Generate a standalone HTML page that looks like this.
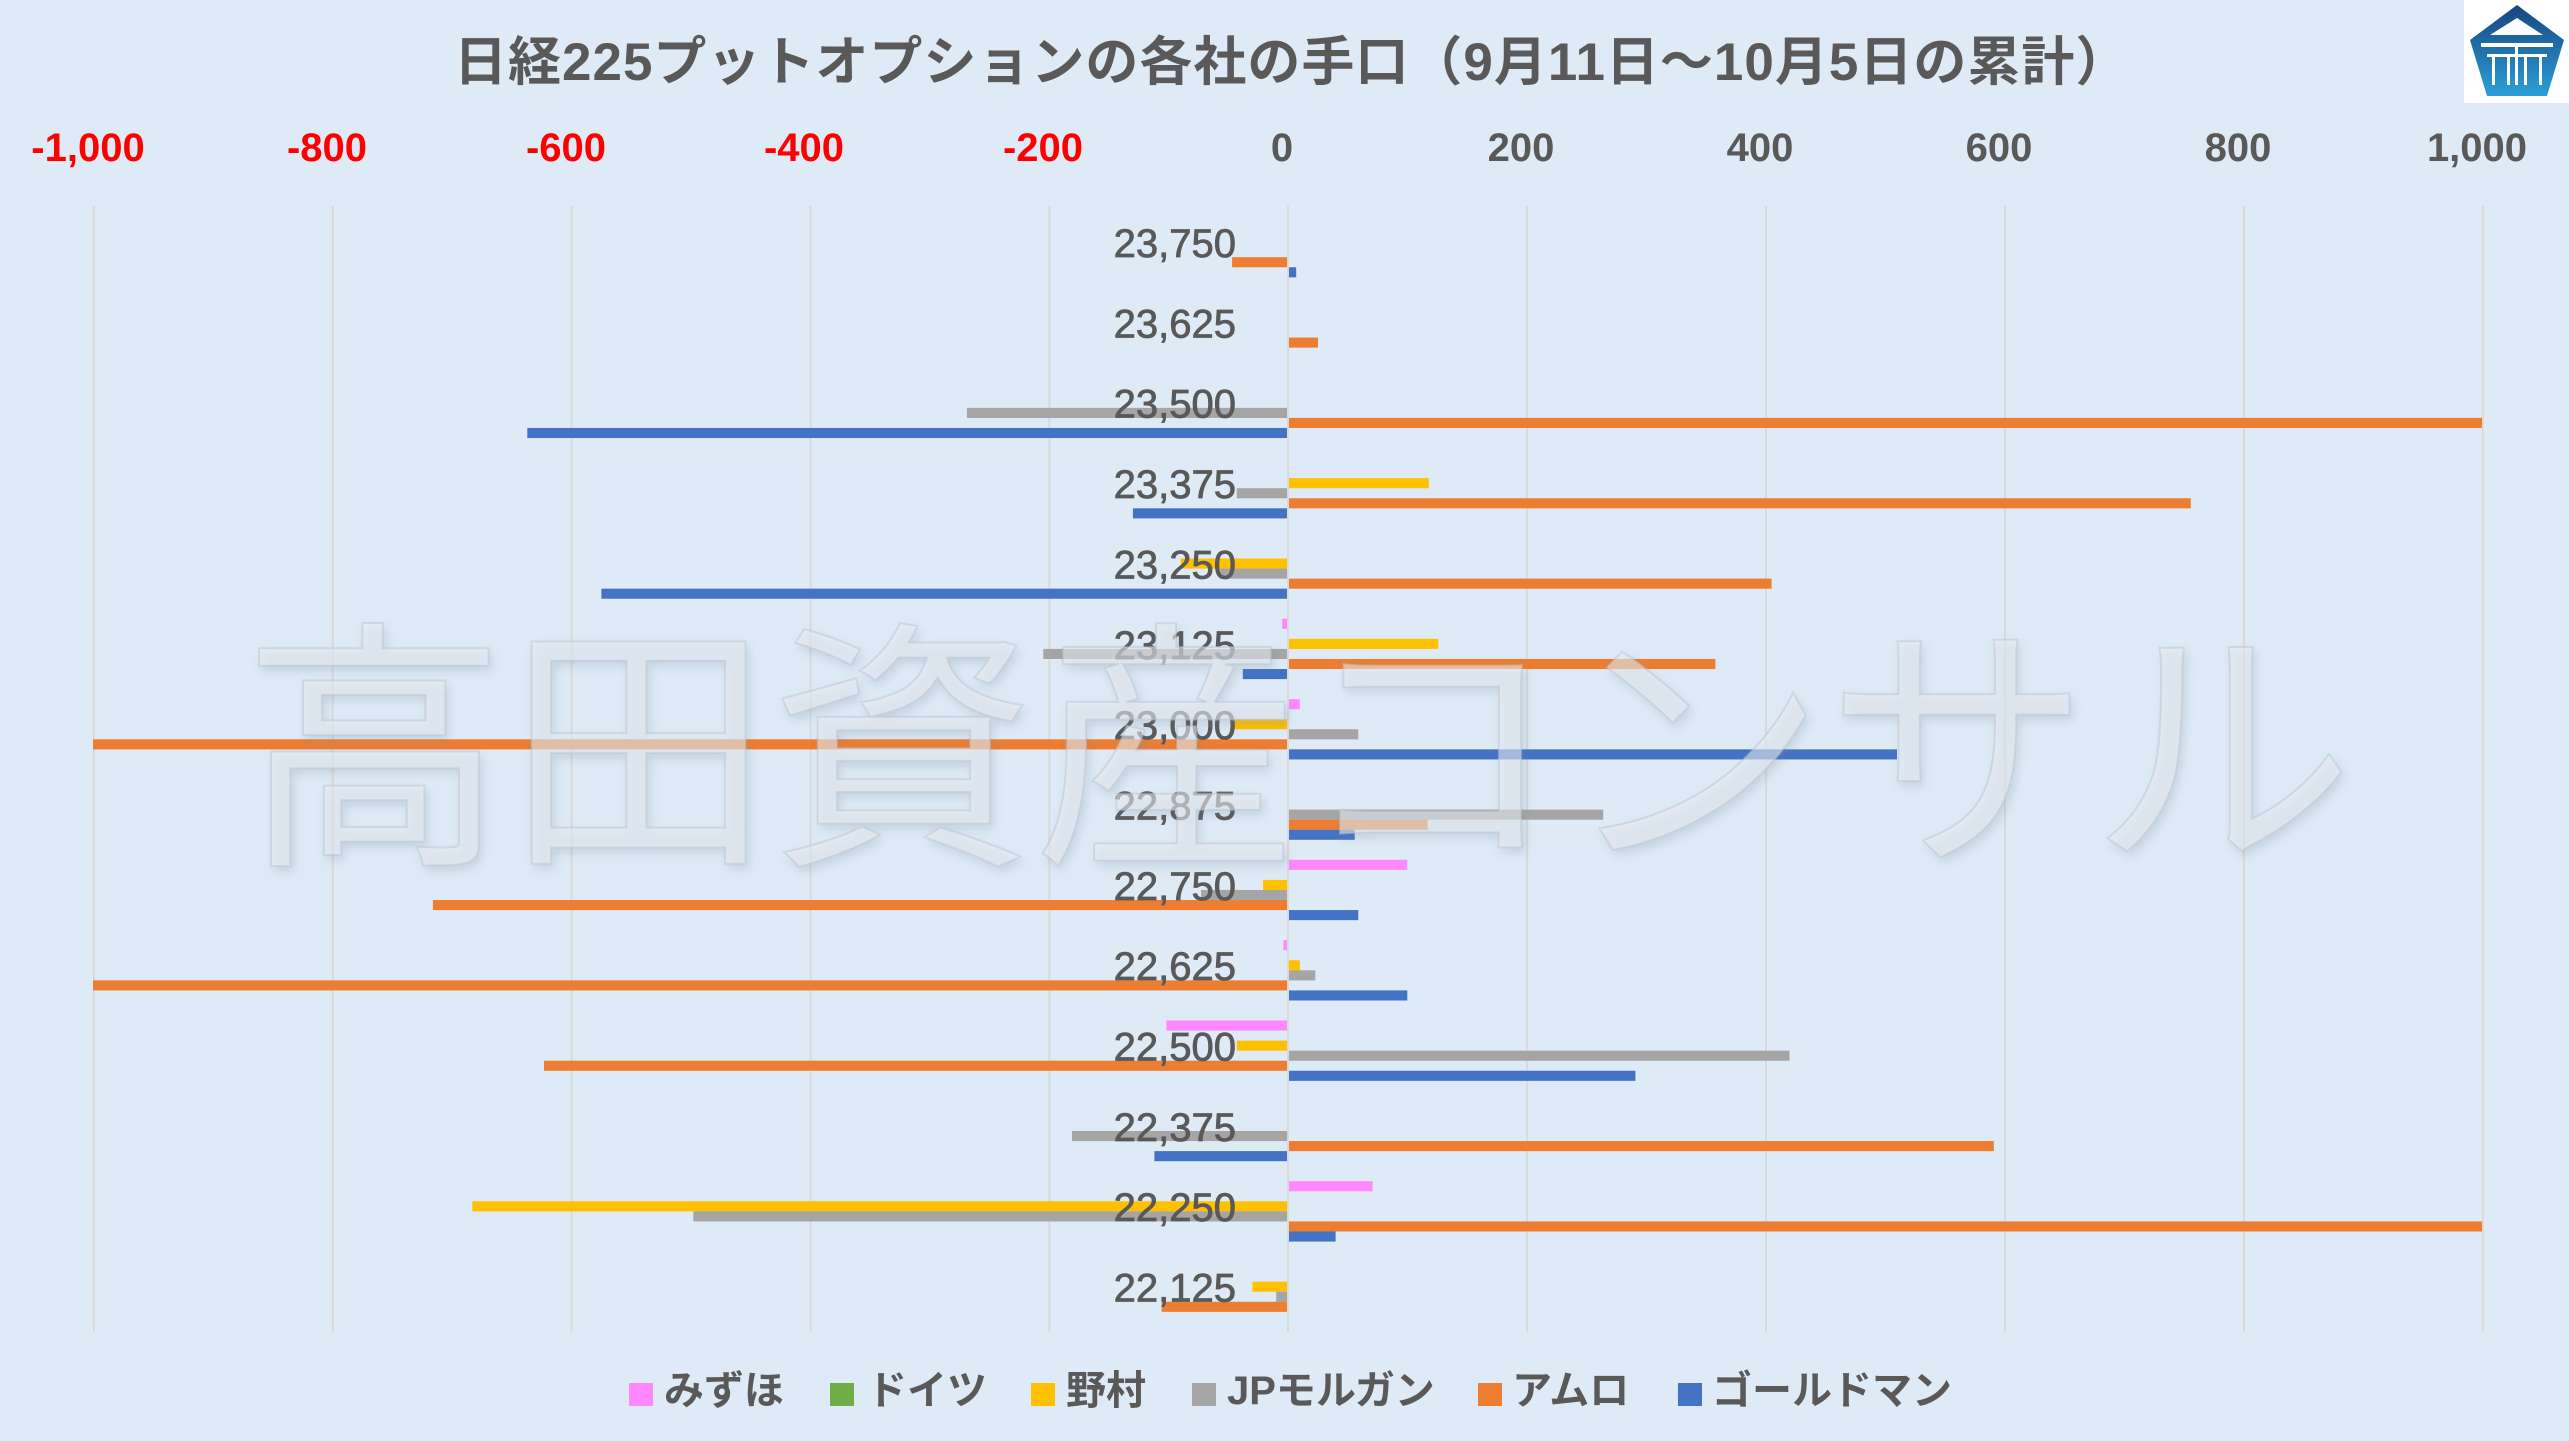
<!DOCTYPE html>
<html><head><meta charset="utf-8"><style>
html,body{margin:0;padding:0;background:#DEEBF7;}
svg{display:block;}
</style></head><body>
<svg width="2569" height="1441" viewBox="0 0 2569 1441" xmlns="http://www.w3.org/2000/svg">
<defs>
<linearGradient id="lg" x1="0" y1="0" x2="0" y2="1">
<stop offset="0" stop-color="#17457f"/><stop offset="1" stop-color="#2b9fd8"/>
</linearGradient>
<filter id="ws" x="-5%" y="-10%" width="110%" height="120%">
<feDropShadow dx="3" dy="5" stdDeviation="5" flood-color="#708096" flood-opacity="0.4"/>
</filter>
</defs>
<rect x="0" y="0" width="2569" height="1441" fill="#DEEBF7"/>

<!-- title -->
<text x="454" y="80" font-family="Liberation Sans, Noto Sans CJK JP, sans-serif" font-weight="bold" font-size="53" letter-spacing="1" fill="#595959">日経225プットオプションの各社の手口（9月11日～10月5日の累計）</text>

<!-- logo -->
<rect x="2464" y="0" width="105" height="103" fill="#ffffff"/>
<polygon points="2517,5 2470,40 2487,96 2547,96 2564,40" fill="url(#lg)"/>
<polygon points="2517,18 2490,35 2543,35" fill="#ffffff"/>
<rect x="2481" y="43" width="72" height="4" fill="#ffffff"/>
<rect x="2487" y="54" width="60" height="3" fill="#ffffff"/>
<rect x="2492" y="57" width="3" height="28" fill="#ffffff"/>
<rect x="2507" y="57" width="3" height="28" fill="#ffffff"/>
<rect x="2515" y="47" width="3" height="38" fill="#ffffff"/>
<rect x="2524" y="57" width="3" height="28" fill="#ffffff"/>
<rect x="2539" y="57" width="3" height="28" fill="#ffffff"/>

<!-- axis tick labels -->
<g font-family="Liberation Sans, sans-serif" font-weight="bold" font-size="40" text-anchor="middle">
<text x="88" y="161" fill="#FF0000">-1,000</text>
<text x="327" y="161" fill="#FF0000">-800</text>
<text x="566" y="161" fill="#FF0000">-600</text>
<text x="804" y="161" fill="#FF0000">-400</text>
<text x="1043" y="161" fill="#FF0000">-200</text>
<text x="1282" y="161" fill="#595959">0</text>
<text x="1521" y="161" fill="#595959">200</text>
<text x="1760" y="161" fill="#595959">400</text>
<text x="1999" y="161" fill="#595959">600</text>
<text x="2238" y="161" fill="#595959">800</text>
<text x="2477" y="161" fill="#595959">1,000</text>
</g>

<!-- gridlines -->
<g fill="#D9D9D9">
<rect x="92.8" y="206" width="2" height="1126"/>
<rect x="331.7" y="206" width="2" height="1126"/>
<rect x="570.6" y="206" width="2" height="1126"/>
<rect x="809.5" y="206" width="2" height="1126"/>
<rect x="1048.4" y="206" width="2" height="1126"/>
<rect x="1287" y="206" width="2" height="1126"/>
<rect x="1526.2" y="206" width="2" height="1126"/>
<rect x="1765.1" y="206" width="2" height="1126"/>
<rect x="2004" y="206" width="2" height="1126"/>
<rect x="2242.9" y="206" width="2" height="1126"/>
<rect x="2481.8" y="206" width="2" height="1126"/>
</g>

<!-- bars -->
<g>
<rect x="1232.1" y="257.2" width="54.9" height="10.1" fill="#ED7D31"/>
<rect x="1289" y="267.25" width="7.2" height="10.1" fill="#4472C4"/>
<rect x="1289" y="337.55" width="29" height="10.1" fill="#ED7D31"/>
<rect x="966.9" y="407.85" width="320.1" height="10.1" fill="#A5A5A5"/>
<rect x="1289" y="417.9" width="1193" height="10.1" fill="#ED7D31"/>
<rect x="527.3" y="427.95" width="759.7" height="10.1" fill="#4472C4"/>
<rect x="1289" y="478.15" width="139.8" height="10.1" fill="#FFC000"/>
<rect x="1236.8" y="488.2" width="50.2" height="10.1" fill="#A5A5A5"/>
<rect x="1289" y="498.25" width="901.8" height="10.1" fill="#ED7D31"/>
<rect x="1132.9" y="508.3" width="154.1" height="10.1" fill="#4472C4"/>
<rect x="1180.7" y="558.5" width="106.3" height="10.1" fill="#FFC000"/>
<rect x="1220.1" y="568.55" width="66.9" height="10.1" fill="#A5A5A5"/>
<rect x="1289" y="578.6" width="482.6" height="10.1" fill="#ED7D31"/>
<rect x="601.4" y="588.65" width="685.6" height="10.1" fill="#4472C4"/>
<rect x="1282.2" y="618.75" width="4.8" height="10.1" fill="#FF88FF"/>
<rect x="1289" y="638.85" width="149.3" height="10.1" fill="#FFC000"/>
<rect x="1043.3" y="648.9" width="243.7" height="10.1" fill="#A5A5A5"/>
<rect x="1289" y="658.95" width="426.4" height="10.1" fill="#ED7D31"/>
<rect x="1242.8" y="669" width="44.2" height="10.1" fill="#4472C4"/>
<rect x="1289" y="699.1" width="10.8" height="10.1" fill="#FF88FF"/>
<rect x="1230.9" y="719.2" width="56.1" height="10.1" fill="#FFC000"/>
<rect x="1289" y="729.25" width="69.3" height="10.1" fill="#A5A5A5"/>
<rect x="93" y="739.3" width="1194" height="10.1" fill="#ED7D31"/>
<rect x="1289" y="749.35" width="608" height="10.1" fill="#4472C4"/>
<rect x="1289" y="809.6" width="314.2" height="10.1" fill="#A5A5A5"/>
<rect x="1289" y="819.65" width="138.6" height="10.1" fill="#ED7D31"/>
<rect x="1289" y="829.7" width="65.7" height="10.1" fill="#4472C4"/>
<rect x="1289" y="859.8" width="118.3" height="10.1" fill="#FF88FF"/>
<rect x="1263.1" y="879.9" width="23.9" height="10.1" fill="#FFC000"/>
<rect x="1201" y="889.95" width="86" height="10.1" fill="#A5A5A5"/>
<rect x="432.9" y="900" width="854.1" height="10.1" fill="#ED7D31"/>
<rect x="1289" y="910.05" width="69.3" height="10.1" fill="#4472C4"/>
<rect x="1283.4" y="940.15" width="3.6" height="10.1" fill="#FF88FF"/>
<rect x="1289" y="960.25" width="10.8" height="10.1" fill="#FFC000"/>
<rect x="1289" y="970.3" width="26.3" height="10.1" fill="#A5A5A5"/>
<rect x="93" y="980.35" width="1194" height="10.1" fill="#ED7D31"/>
<rect x="1289" y="990.4" width="118.3" height="10.1" fill="#4472C4"/>
<rect x="1166.4" y="1020.5" width="120.6" height="10.1" fill="#FF88FF"/>
<rect x="1236.8" y="1040.6" width="50.2" height="10.1" fill="#FFC000"/>
<rect x="1289" y="1050.65" width="500.5" height="10.1" fill="#A5A5A5"/>
<rect x="544" y="1060.7" width="743" height="10.1" fill="#ED7D31"/>
<rect x="1289" y="1070.75" width="346.4" height="10.1" fill="#4472C4"/>
<rect x="1072" y="1131" width="215" height="10.1" fill="#A5A5A5"/>
<rect x="1289" y="1141.05" width="704.8" height="10.1" fill="#ED7D31"/>
<rect x="1154.4" y="1151.1" width="132.6" height="10.1" fill="#4472C4"/>
<rect x="1289" y="1181.2" width="83.6" height="10.1" fill="#FF88FF"/>
<rect x="472.4" y="1201.3" width="814.6" height="10.1" fill="#FFC000"/>
<rect x="693.3" y="1211.35" width="593.7" height="10.1" fill="#A5A5A5"/>
<rect x="1289" y="1221.4" width="1193" height="10.1" fill="#ED7D31"/>
<rect x="1289" y="1231.45" width="46.6" height="10.1" fill="#4472C4"/>
<rect x="1252.4" y="1281.65" width="34.6" height="10.1" fill="#FFC000"/>
<rect x="1276.2" y="1291.7" width="10.8" height="10.1" fill="#A5A5A5"/>
<rect x="1161.6" y="1301.75" width="125.4" height="10.1" fill="#ED7D31"/>
</g>

<!-- category labels -->
<g font-family="Liberation Sans, sans-serif" font-size="40" fill="#595959" stroke="#595959" stroke-width="0.8" text-anchor="end">
<text x="1236" y="257">23,750</text>
<text x="1236" y="337.35">23,625</text>
<text x="1236" y="417.7">23,500</text>
<text x="1236" y="498.05">23,375</text>
<text x="1236" y="578.4">23,250</text>
<text x="1236" y="658.75">23,125</text>
<text x="1236" y="739.1">23,000</text>
<text x="1236" y="819.45">22,875</text>
<text x="1236" y="899.8">22,750</text>
<text x="1236" y="980.15">22,625</text>
<text x="1236" y="1060.5">22,500</text>
<text x="1236" y="1140.85">22,375</text>
<text x="1236" y="1221.2">22,250</text>
<text x="1236" y="1301.55">22,125</text>
</g>

<!-- watermark -->
<text x="242" y="845" font-family="Noto Sans CJK JP, sans-serif" font-weight="400" font-size="264" fill="rgba(232,236,242,0.55)" stroke="rgba(185,194,207,0.45)" stroke-width="2" filter="url(#ws)">高田資産コンサル</text>

<!-- legend -->
<g font-family="Liberation Sans, Noto Sans CJK JP, sans-serif" font-weight="bold" font-size="40" fill="#595959">
<rect x="629" y="1383" width="24" height="23" fill="#FF88FF"/>
<text x="664" y="1404">みずほ</text>
<rect x="830" y="1383" width="24" height="23" fill="#70AD47"/>
<text x="867" y="1404">ドイツ</text>
<rect x="1031" y="1383" width="24" height="23" fill="#FFC000"/>
<text x="1066" y="1404">野村</text>
<rect x="1192" y="1383" width="24" height="23" fill="#A5A5A5"/>
<text x="1227" y="1404">JPモルガン</text>
<rect x="1478" y="1383" width="24" height="23" fill="#ED7D31"/>
<text x="1512" y="1404">アムロ</text>
<rect x="1678" y="1383" width="24" height="23" fill="#4472C4"/>
<text x="1712" y="1404">ゴールドマン</text>
</g>
</svg>
</body></html>
